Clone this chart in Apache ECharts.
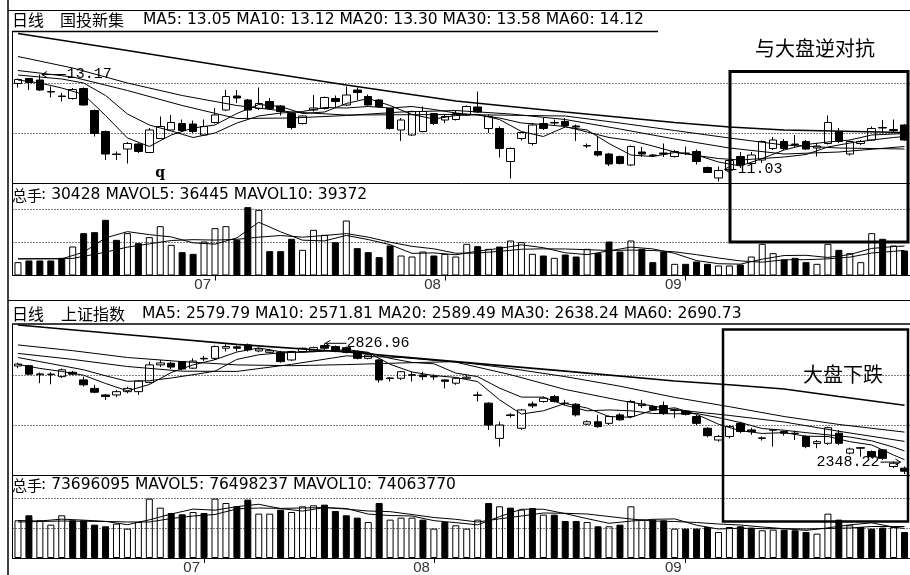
<!DOCTYPE html>
<html><head><meta charset="utf-8"><title>国投新集 与 上证指数 日线</title>
<script src="https://cdn.jsdelivr.net/npm/echarts@6/dist/echarts.min.js"></script>
<style>html,body{margin:0;padding:0;background:#fff;}#chart{width:910px;height:575px;}</style>
</head><body><div id="chart"></div>
<script>
// ---------------- DATA ----------------
const topDates = ['06-07','06-08','06-09','06-10','06-13','06-14','06-15','06-16','06-17','06-20','06-21','06-22','06-23','06-24','06-27','06-28','06-29','06-30',
 '07-01','07-04','07-05','07-06','07-07','07-08','07-11','07-12','07-13','07-14','07-15','07-18','07-19','07-20','07-21','07-22','07-25','07-26','07-27','07-28','07-29',
 '08-01','08-02','08-03','08-04','08-05','08-08','08-09','08-10','08-11','08-12','08-15','08-16','08-17','08-18','08-19','08-22','08-23','08-25','08-26','08-29','08-30','08-31',
 '09-01','09-02','09-05','09-06','09-07','09-08','09-09','09-13','09-14','09-15','09-16','09-19','09-20','09-21','09-22','09-23','09-26','09-27','09-28','09-29','09-30'];
const bottomDates = ['06-08','06-09','06-10','06-13','06-14','06-15','06-16','06-17','06-20','06-21','06-22','06-23','06-24','06-27','06-28','06-29','06-30',
 '07-01','07-04','07-05','07-06','07-07','07-08','07-11','07-12','07-13','07-14','07-15','07-18','07-19','07-20','07-21','07-22','07-25','07-26','07-27','07-28','07-29',
 '08-01','08-02','08-03','08-04','08-05','08-08','08-09','08-10','08-11','08-12','08-15','08-16','08-17','08-18','08-19','08-22','08-23','08-24','08-25','08-26','08-29','08-30','08-31',
 '09-01','09-02','09-05','09-06','09-07','09-08','09-09','09-13','09-14','09-15','09-16','09-19','09-20','09-21','09-22','09-23','09-26','09-27','09-28','09-29','09-30'];

// 国投新集 candles: [open, close, low, high]
const topCandles = [
 [12.99,13.07,12.91,13.09],[13.09,13.01,12.86,13.10],[13.06,12.86,12.84,13.17],[12.83,12.82,12.71,12.93],[12.74,12.73,12.63,12.80],
 [12.69,12.87,12.67,12.90],[12.89,12.56,12.55,12.91],[12.45,11.99,11.93,12.47],[12.03,11.58,11.46,12.05],[11.58,11.57,11.46,11.63],
 [11.68,11.79,11.39,11.82],[11.78,11.63,11.60,11.80],[11.61,12.06,11.60,12.10],[11.89,12.13,11.88,12.33],[12.06,12.21,12.05,12.36],
 [12.19,12.05,12.03,12.27],[12.18,12.03,12.00,12.25],[11.96,12.13,11.94,12.27],[12.21,12.36,12.19,12.50],[12.46,12.73,12.44,12.86],
 [12.74,12.70,12.60,12.86],[12.66,12.46,12.30,12.68],[12.49,12.59,12.46,12.91],[12.63,12.49,12.46,12.70],[12.54,12.43,12.35,12.56],
 [12.39,12.11,12.07,12.41],[12.19,12.34,12.17,12.35],[12.46,12.50,12.43,12.76],[12.49,12.71,12.47,12.73],[12.69,12.63,12.50,12.75],
 [12.56,12.76,12.54,12.93],[12.86,12.81,12.66,12.91],[12.73,12.56,12.55,12.77],[12.66,12.53,12.50,12.68],[12.49,12.09,12.07,12.50],
 [12.06,12.26,11.84,12.30],[11.96,12.43,11.94,12.45],[12.03,12.43,12.01,12.53],[12.39,12.19,12.16,12.40],[12.26,12.33,12.20,12.36],
 [12.27,12.39,12.25,12.44],[12.36,12.53,12.34,12.55],[12.52,12.42,12.40,12.83],[12.09,12.33,12.00,12.37],[12.09,11.69,11.51,12.13],
 [11.43,11.69,11.09,11.71],[11.89,12.01,11.85,12.03],[11.79,12.16,11.75,12.20],[12.19,12.09,12.06,12.30],[12.20,12.21,12.15,12.27],
 [12.23,12.15,12.10,12.30],[12.14,12.12,11.84,12.17],[11.74,11.75,11.70,11.79],[11.63,11.56,11.53,11.93],[11.58,11.38,11.34,11.60],
 [11.53,11.39,11.37,11.55],[11.36,11.73,11.34,11.75],[11.62,11.58,11.52,11.72],[11.56,11.55,11.53,11.58],[11.60,11.58,11.52,11.79],
 [11.53,11.63,11.51,11.66],[11.60,11.59,11.56,11.73],[11.63,11.43,11.37,11.67],[11.31,11.21,11.20,11.33],[11.10,11.25,11.03,11.33],
 [11.26,11.45,11.20,11.50],[11.53,11.36,11.30,11.62],[11.39,11.56,11.30,11.62],[11.46,11.83,11.40,11.85],[11.69,11.86,11.66,11.92],
 [11.83,11.69,11.66,11.88],[11.78,11.77,11.72,11.96],[11.83,11.68,11.66,11.86],[11.70,11.74,11.53,11.80],[11.79,12.21,11.77,12.35],
 [12.03,11.83,11.80,12.10],[11.58,11.83,11.55,11.85],[11.79,11.83,11.76,11.86],[11.86,12.09,11.84,12.13],[12.11,12.10,12.00,12.26],
 [12.05,12.07,12.00,12.27],[12.16,11.86,11.84,12.18]];
const topVolume = [16000,18000,18000,18000,21200,34800,50800,52000,66800,42800,
 50800,38800,46000,59200,36800,28000,26000,40800,56800,59200,
 42800,82000,78800,29200,29200,44000,30800,54800,48800,40000,
 66000,32800,28000,22000,36000,24000,22800,28800,24000,26000,
 22800,38000,35200,32000,34800,42000,40000,26000,24000,21200,
 25200,22800,32000,26800,40800,28800,42000,32000,16000,28800,
 14000,14000,16800,14000,12000,12000,13200,22800,38000,26800,
 19200,21200,16000,14000,38000,30800,26800,16000,50800,44000,
 36000,30000];
// moving-average lines: [bar index, value]
const topMA5 = [[0,13.06],[2,13.0],[4,12.9],[6,12.77],[8,12.35],[10,11.9],[12,11.73],[14,11.96],[16,12.1],[18,12.16],[20,12.39],[22,12.57],[24,12.53],[26,12.39],[28,12.42],[30,12.59],[32,12.69],[34,12.55],[36,12.37],[38,12.28],[40,12.35],[42,12.37],[44,12.27],[46,12.03],[48,11.93],[50,12.12],[52,12.06],[54,11.79],[56,11.56],[58,11.53],[60,11.61],[62,11.56],[64,11.42],[66,11.34],[68,11.49],[70,11.66],[72,11.77],[74,11.82],[76,11.86],[78,11.96],[80,11.98],[81,11.99]];
const topMA10 = [[0,13.16],[2,13.12],[4,13.08],[6,13.0],[8,12.75],[10,12.38],[12,12.16],[14,12.04],[16,11.91],[18,12.0],[20,12.2],[22,12.34],[24,12.4],[26,12.43],[28,12.51],[30,12.5],[32,12.53],[34,12.5],[36,12.53],[38,12.47],[40,12.4],[42,12.36],[44,12.3],[46,12.2],[48,12.17],[50,12.13],[52,12.02],[54,11.91],[56,11.85],[58,11.74],[60,11.62],[62,11.55],[64,11.49],[66,11.46],[68,11.49],[70,11.52],[72,11.57],[74,11.72],[76,11.8],[78,11.86],[80,11.91],[81,11.93]];
const topMA20 = [[0,13.25],[5,13.12],[10,12.85],[15,12.55],[20,12.29],[25,12.3],[30,12.35],[35,12.42],[40,12.45],[45,12.38],[50,12.27],[55,12.08],[60,11.88],[65,11.7],[70,11.58],[75,11.62],[81,11.73]];
const topMA30 = [[0,13.53],[5,13.3],[10,13.0],[15,12.75],[20,12.55],[25,12.42],[30,12.36],[40,12.37],[50,12.34],[55,12.2],[60,12.05],[65,11.9],[70,11.76],[75,11.7],[81,11.68]];
const topMA60 = [[0,13.99],[10,13.65],[20,13.3],[30,12.96],[40,12.64],[50,12.42],[60,12.21],[65,12.12],[70,12.06],[81,12.01]];
const topMAVOL5 = [[0,20000],[4,20000],[6,28000],[8,45120],[10,52640],[12,49040],[14,46320],[16,39200],[18,37680],[20,45120],[22,63920],[24,52400],[26,42400],[28,41520],[30,48080],[32,43120],[34,36960],[36,26560],[38,27120],[40,24880],[42,29200],[44,32560],[46,36800],[48,33360],[50,27280],[52,25040],[54,29520],[56,34080],[58,31920],[60,26560],[62,17920],[64,14160],[66,13600],[68,19600],[70,24000],[72,24240],[74,21680],[76,25120],[78,32480],[80,34720],[81,35360]];
const topMAVOL10 = [[0,20000],[5,20500],[8,28000],[10,34000],[12,38000],[14,42000],[16,43000],[18,42500],[20,43400],[22,46000],[24,48000],[26,46000],[28,48000],[30,50300],[32,46000],[34,40000],[36,35000],[38,32000],[40,26700],[42,27000],[44,29000],[46,31500],[48,32000],[50,31800],[52,31000],[54,30000],[56,30500],[58,30000],[60,28400],[62,25000],[64,21000],[66,17500],[68,16000],[70,18900],[72,19000],[74,20000],[76,22000],[78,27000],[80,29000],[81,30200]];

// 上证指数 candles: [open, close, low, high]
const bottomCandles = [
 [2744,2751,2736,2756],[2745,2714,2711,2748],[2712,2715,2681,2720],[2713,2714,2677,2721],[2705,2730,2700,2735],
 [2721,2714,2711,2726],[2693,2675,2669,2705],[2662,2648,2644,2675],[2638,2632,2620,2641],[2638,2650,2630,2656],
 [2650,2662,2644,2668],[2650,2689,2638,2693],[2684,2748,2680,2760],[2748,2755,2740,2766],[2754,2740,2733,2760],
 [2760,2733,2729,2762],[2736,2762,2733,2772],[2772,2770,2762,2781],[2772,2815,2766,2819],[2809,2815,2797,2823],
 [2814,2809,2797,2819],[2821,2803,2797,2826],[2799,2806,2794,2811],[2794,2800,2790,2806],[2794,2760,2756,2799],
 [2766,2797,2762,2800],[2797,2809,2794,2811],[2799,2811,2794,2815],[2819,2809,2803,2826.96],[2815,2797,2794,2819],
 [2811,2794,2790,2815],[2797,2772,2768,2800],[2772,2784,2768,2787],[2766,2693,2683,2770],[2698,2700,2687,2703],
 [2699,2723,2693,2726],[2710,2712,2687,2723],[2711,2705,2693,2723],[2704,2706,2693,2714],[2693,2688,2662,2694],
 [2681,2699,2675,2703],[2699,2703,2693,2711],[2636,2638,2614,2650],[2608,2528,2510,2611],[2479,2528,2449,2540],
 [2565,2563,2555,2571],[2516,2583,2510,2587],[2605,2598,2590,2614],[2614,2626,2610,2632],[2632,2614,2610,2638],
 [2608,2607,2599,2620],[2604,2565,2559,2608],[2531,2540,2528,2545],[2540,2522,2518,2565],[2534,2559,2528,2563],
 [2565,2547,2543,2571],[2559,2614,2553,2620],[2599,2605,2590,2620],[2595,2583,2579,2601],[2599,2571,2565,2614],
 [2581,2583,2553,2589],[2579,2567,2563,2583],[2559,2534,2528,2565],[2516,2489,2483,2520],[2473,2486,2467,2492],
 [2486,2522,2479,2528],[2534,2504,2498,2540],[2510,2504,2492,2518],[2479,2481,2471,2486],[2509,2510,2449,2510],
 [2504,2498,2489,2508],[2498,2497,2473,2507],[2486,2449,2443,2490],[2460,2467,2443,2473],[2461,2518,2455,2522],
 [2498,2461,2455,2510],[2425,2440,2420,2445],[2445,2443,2412,2446],[2431,2412,2408,2435],[2437,2406,2400,2440],
 [2376,2388,2370,2394],[2370,2359,2348.22,2376]];
// volume in millions of lots
const bottomVolume = [75.4,85.4,75.4,66.7,85.4,75.4,75.4,66.7,63.4,68.7,
 58.7,72,118.7,100.7,90,87.4,92,90,118.7,110,
 103.4,116.7,88.7,88.7,96.7,92,103.4,105.4,106.7,94,
 85.4,80.7,72,110,76.7,80.7,80.7,76.7,58.7,72,
 65.4,58.7,76.7,110,103.4,100.7,96.7,100,86.7,86.7,
 74,74,72,63.4,63.4,66.7,103.4,76.7,76.7,75.4,
 58.7,58.7,58.7,62,52,62,63.4,60.7,55.4,56.7,
 56.7,55.4,52,48.7,88.7,76.7,65.4,62,58.7,60.7,
 62,52];
const bottomMA5 = [[0,2750],[2,2735],[4,2724],[6,2710],[8,2680],[10,2653],[12,2676],[14,2720],[16,2748],[18,2767],[20,2795],[22,2810],[24,2796],[26,2794],[28,2798],[30,2804],[32,2794],[34,2750],[36,2722],[38,2709],[40,2702],[42,2687],[44,2620],[46,2568],[48,2580],[50,2607],[52,2590],[54,2559],[56,2556],[58,2582],[60,2591],[62,2567],[64,2531],[66,2507],[68,2497],[70,2500],[72,2487],[74,2486],[76,2467],[78,2455],[80,2418],[81,2401]];
const bottomMA10 = [[0,2775],[2,2760],[4,2745],[6,2730],[8,2708],[10,2688],[12,2690],[14,2700],[16,2712],[18,2725],[20,2768],[22,2785],[24,2792],[26,2795],[28,2800],[30,2798],[32,2792],[34,2772],[36,2757],[38,2752],[40,2718],[42,2705],[44,2663],[46,2630],[48,2630],[50,2600],[52,2580],[54,2583],[56,2580],[58,2570],[60,2569],[62,2570],[64,2555],[66,2537],[68,2515],[70,2509],[72,2500],[74,2492],[76,2484],[78,2470],[80,2447],[81,2433]];
const bottomMA20 = [[0,2790],[5,2768],[10,2742],[15,2725],[20,2724],[25,2750],[30,2781],[35,2775],[40,2758],[45,2712],[50,2658],[55,2618],[60,2584],[65,2563],[70,2539],[75,2505],[81,2468]];
const bottomMA30 = [[0,2821],[5,2800],[10,2775],[15,2760],[20,2748],[25,2745],[30,2749],[35,2755],[40,2760],[45,2735],[50,2705],[55,2670],[60,2629],[65,2595],[70,2559],[75,2530],[81,2502]];
const bottomMA60 = [[0,2894],[10,2858],[20,2823],[30,2795],[40,2760],[50,2725],[60,2689],[65,2675],[70,2660],[75,2632],[81,2600]];
const bottomMAVOL5 = [[0,75],[2,74],[4,77.7],[6,75.7],[8,73.3],[10,66.6],[12,76.3],[14,88],[16,97.8],[18,95.6],[20,102.8],[22,107.5],[24,98.8],[26,93.9],[28,100.8],[30,99],[32,87.8],[34,85],[36,84],[38,74.7],[40,70.7],[42,66.3],[44,82.8],[46,97.5],[48,97.5],[50,88.8],[52,78.7],[54,69.4],[56,73.8],[58,77.4],[60,78.2],[62,65.6],[64,58],[66,59.6],[68,58.7],[70,58.6],[72,55.2],[74,60.3],[76,66.3],[78,70.3],[80,61.8],[81,59.1]];
const bottomMAVOL10 = [[0,72],[4,74],[8,73],[10,72.1],[12,72],[14,79],[16,84],[18,87],[20,98.3],[22,100],[24,99.2],[26,100],[28,101],[30,97.8],[32,94],[34,92.7],[36,87],[38,81],[40,77.4],[42,72],[44,78.3],[46,84],[48,90],[50,89.4],[52,88],[54,83],[56,78],[58,74],[60,73],[62,71],[64,68],[66,66],[68,62],[70,58.6],[72,58],[74,59],[76,60],[78,63],[80,63],[81,63]];

// dotted grid levels
const topPriceGrid = [13.0, 12.0];
const topVolGrid = [40000, 80000];
const bottomPriceGrid = [2711, 2528];
const bottomVolGrid = [59.4, 118.8];

// header texts
const topTitleCN = ['日线', '国投新集'];
const topTitleMA = 'MA5: 13.05 MA10: 13.12 MA20: 13.30 MA30: 13.58 MA60: 14.12';
const topVolTitle = ': 30428 MAVOL5: 36445 MAVOL10: 39372';
const bottomTitleCN = ['日线', '上证指数'];
const bottomTitleMA = 'MA5: 2579.79 MA10: 2571.81 MA20: 2589.49 MA30: 2638.24 MA60: 2690.73';
const bottomVolTitle = ': 73696095 MAVOL5: 76498237 MAVOL10: 74063770';
const volTitleCN = '总手';
const noteTop = '与大盘逆对抗';
const noteBottom = '大盘下跌';

// ---------------- CHART ----------------
const chart = echarts.init(document.getElementById('chart'), null, {renderer: 'canvas'});
const LEFT = 12.5, WIDTH = 900;
const grids = [
  {left: LEFT, width: WIDTH, top: 32, height: 151},
  {left: LEFT, width: WIDTH, top: 200, height: 75.5},
  {left: LEFT, width: WIDTH, top: 324, height: 151},
  {left: LEFT, width: WIDTH, top: 492, height: 66}
];
const yRanges = [[11.0, 14.02], [0, 90600], [2345, 2897.6], [0, 132]];

function monthStart(dates) {
  return function (idx) { return idx > 0 && dates[idx].slice(0, 2) !== dates[idx - 1].slice(0, 2); };
}
function xAxisFor(g, dates, withLabels) {
  return {
    type: 'category', gridIndex: g, data: dates, boundaryGap: true,
    axisLine: {show: true, onZero: false, lineStyle: {color: '#000', width: 1}},
    axisTick: {show: withLabels, interval: monthStart(dates), alignWithLabel: true, length: 5, lineStyle: {color: '#000'}},
    axisLabel: {show: withLabels, interval: monthStart(dates), formatter: v => v.slice(0, 2),
      align: 'right', padding: [0, 4, 0, 0], margin: 2, color: '#333', fontFamily: 'Liberation Sans', fontSize: 15},
    splitLine: {show: false}
  };
}
function maLine(g, data, width, gridLevels) {
  const s = {
    type: 'line', xAxisIndex: g, yAxisIndex: g, data: data, showSymbol: false, symbol: 'none',
    connectNulls: true, silent: true, z: 3,
    lineStyle: {color: '#000', width: width}
  };
  if (gridLevels) {
    s.markLine = {silent: true, symbol: ['none', 'none'], label: {show: false}, animation: false,
      lineStyle: {type: [1, 2], color: '#000', width: 1},
      data: gridLevels.map(v => ({yAxis: v}))};
  }
  return s;
}
function candle(g, data) {
  return {type: 'candlestick', xAxisIndex: g, yAxisIndex: g, data: data, barWidth: 8, z: 2,
    itemStyle: {color: '#fff', color0: '#000', borderColor: '#000', borderColor0: '#000', borderWidth: 1}};
}
function volume(g, vols, candles) {
  return {type: 'bar', xAxisIndex: g, yAxisIndex: g, barWidth: 7, z: 2,
    data: vols.map((v, i) => ({value: v, itemStyle: {color: candles[i][1] > candles[i][0] ? '#fff' : '#000'}})),
    itemStyle: {borderColor: '#000', borderWidth: 1}};
}

const option = {
  animation: false,
  backgroundColor: '#fff',
  grid: grids,
  xAxis: [xAxisFor(0, topDates, false), xAxisFor(1, topDates, true), xAxisFor(2, bottomDates, false), xAxisFor(3, bottomDates, true)],
  yAxis: yRanges.map((r, g) => ({type: 'value', gridIndex: g, min: r[0], max: r[1], show: false, scale: true})),
  series: [
    maLine(0, topMA60, 1.6, topPriceGrid),
    candle(0, topCandles),
    maLine(0, topMA5, 1), maLine(0, topMA10, 1), maLine(0, topMA20, 1), maLine(0, topMA30, 1),
    maLine(1, [], 1, topVolGrid),
    volume(1, topVolume, topCandles),
    maLine(1, topMAVOL5, 1), maLine(1, topMAVOL10, 1),
    maLine(2, bottomMA60, 1.6, bottomPriceGrid),
    candle(2, bottomCandles),
    maLine(2, bottomMA5, 1), maLine(2, bottomMA10, 1), maLine(2, bottomMA20, 1), maLine(2, bottomMA30, 1),
    maLine(3, [], 1, bottomVolGrid),
    volume(3, bottomVolume, bottomCandles),
    maLine(3, bottomMAVOL5, 1), maLine(3, bottomMAVOL10, 1)
  ]
};
chart.setOption(option);

// ---------------- ANNOTATIONS ----------------
const g = [];
const FONT_LAT = '15.5px "DejaVu Sans"';
const FONT_CJK = '16px "Noto Sans CJK SC"';
const FONT_NUM = '15px "Liberation Mono"';
function txt(text, x, y, font, align) {
  g.push({type: 'text', silent: true, z: 50, style: {text: text, x: x, y: y, font: font, fill: '#000',
    textAlign: align || 'left', textVerticalAlign: 'middle'}});
}
function ln(x1, y1, x2, y2, w) {
  g.push({type: 'line', silent: true, z: 40, shape: {x1: x1, y1: y1, x2: x2, y2: y2}, style: {stroke: '#000', lineWidth: w || 1}});
}
function arrow(xHead, xTail, y) {
  ln(xHead, y, xTail, y, 1);
  const d = xTail > xHead ? 5 : -5;
  ln(xHead, y, xHead + d, y - 3, 1);
  ln(xHead, y, xHead + d, y + 3, 1);
}
// frame
ln(8, 0, 8, 575, 1.5);
ln(8, 10.5, 910, 10.5, 1);
ln(8, 300.5, 910, 300.5, 1);
ln(12.5, 31.5, 12.5, 276, 1);
ln(12.5, 324, 12.5, 558, 1);
ln(12, 31.5, 658, 31.5, 1.5);
ln(12, 324, 910, 324, 1.5);
// headers
txt(topTitleCN[0], 12, 20, FONT_CJK); txt(topTitleCN[1], 60, 20, FONT_CJK); txt(topTitleMA, 143, 20, FONT_LAT);
txt(volTitleCN, 12, 195, '15px "Noto Sans CJK SC"'); txt(topVolTitle, 41, 195, FONT_LAT);
txt(bottomTitleCN[0], 12, 313.5, FONT_CJK); txt(bottomTitleCN[1], 61, 313.5, FONT_CJK); txt(bottomTitleMA, 142, 313.5, FONT_LAT);
txt(volTitleCN, 12, 485, '15px "Noto Sans CJK SC"'); txt(bottomVolTitle, 41, 485, FONT_LAT);

// extreme labels, positioned from data through the chart's scales
function extremes(candles) {
  let hi = 0, lo = 0;
  candles.forEach((c, i) => { if (c[3] > candles[hi][3]) hi = i; if (c[2] < candles[lo][2]) lo = i; });
  return {hi: hi, lo: lo};
}
const te = extremes(topCandles), be = extremes(bottomCandles);
const pTopHi = chart.convertToPixel({xAxisIndex: 0, yAxisIndex: 0}, [te.hi, topCandles[te.hi][3]]);
const pTopLo = chart.convertToPixel({xAxisIndex: 0, yAxisIndex: 0}, [te.lo, topCandles[te.lo][2]]);
const pBotHi = chart.convertToPixel({xAxisIndex: 2, yAxisIndex: 2}, [be.hi, bottomCandles[be.hi][3]]);
const pBotLo = chart.convertToPixel({xAxisIndex: 2, yAxisIndex: 2}, [be.lo, bottomCandles[be.lo][2]]);
arrow(pTopHi[0] + 2, pTopHi[0] + 26, pTopHi[1]);
txt(topCandles[te.hi][3].toFixed(2), pTopHi[0] + 27, pTopHi[1], FONT_NUM);
arrow(pTopLo[0] + 6, pTopLo[0] + 18, pTopLo[1] - 12);
txt(topCandles[te.lo][2].toFixed(2), pTopLo[0] + 19, pTopLo[1] - 12, FONT_NUM);
arrow(pBotHi[0] + 1, pBotHi[0] + 22, pBotHi[1]);
txt(bottomCandles[be.hi][3].toFixed(2), pBotHi[0] + 22, pBotHi[1], FONT_NUM);
arrow(pBotLo[0] - 4, pBotLo[0] - 24, pBotLo[1] - 12);
txt(bottomCandles[be.lo][2].toFixed(2), pBotLo[0] - 25, pBotLo[1] - 12, FONT_NUM, 'right');
const pQ = chart.convertToPixel({xAxisIndex: 0, yAxisIndex: 0}, [13, 11.2]);
txt('q', pQ[0], pQ[1], 'bold 14px "DejaVu Serif"', 'center');

// boxed notes
g.push({type: 'rect', silent: true, z: 60, shape: {x: 730, y: 71.5, width: 178, height: 170.5}, style: {fill: 'none', stroke: '#000', lineWidth: 3}});
g.push({type: 'rect', silent: true, z: 60, shape: {x: 723, y: 329.5, width: 185, height: 192}, style: {fill: 'none', stroke: '#000', lineWidth: 2.5}});
txt(noteTop, 815, 48, '20px "Noto Sans CJK SC"', 'center');
txt(noteBottom, 843, 374, '20px "Noto Sans CJK SC"', 'center');

chart.setOption({graphic: {elements: g}});
</script></body></html>
